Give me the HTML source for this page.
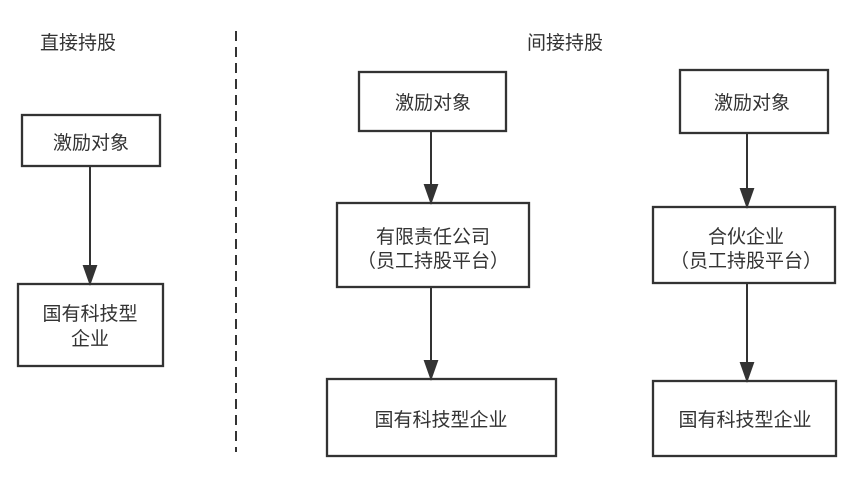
<!DOCTYPE html>
<html><head><meta charset="utf-8"><style>
body{margin:0;background:#fff}
svg text{font-family:"Liberation Sans","Noto Sans CJK SC",sans-serif;font-size:19px;fill:#333}
</style></head><body>
<svg width="865" height="480" viewBox="0 0 865 480" xmlns="http://www.w3.org/2000/svg">
<g fill="#fff" stroke="#333" stroke-width="2.3">
<rect x="22" y="115" width="138" height="51"/>
<rect x="18" y="284" width="145" height="82"/>
<rect x="359" y="72" width="147" height="59"/>
<rect x="337" y="203" width="192" height="84"/>
<rect x="327" y="379" width="229" height="77"/>
<rect x="680" y="70" width="148" height="63"/>
<rect x="653" y="207" width="182" height="76"/>
<rect x="653" y="381" width="183" height="75"/>
</g>
<line x1="236" y1="31" x2="236" y2="452" stroke="#333" stroke-width="2" stroke-dasharray="10,6"/>
<g stroke="#333" stroke-width="2" fill="#333">
<line x1="90" y1="166" x2="90" y2="268"/><path d="M84,266 L96,266 L90,283 z"/>
<line x1="431" y1="131" x2="431" y2="187"/><path d="M425,185 L437,185 L431,202 z"/>
<line x1="431" y1="287" x2="431" y2="363"/><path d="M425,361 L437,361 L431,378 z"/>
<line x1="747" y1="133" x2="747" y2="191"/><path d="M741,189 L753,189 L747,206 z"/>
<line x1="747" y1="283" x2="747" y2="365"/><path d="M741,363 L753,363 L747,380 z"/>
</g>
<g text-anchor="middle">
<text x="78" y="49">直接持股</text>
<text x="565" y="49">间接持股</text>
<text x="91" y="149">激励对象</text>
<text x="90" y="320">国有科技型</text>
<text x="90" y="345">企业</text>
<text x="433" y="109">激励对象</text>
<text x="433" y="243">有限责任公司</text>
<text x="433" y="267">（员工持股平台）</text>
<text x="441" y="426">国有科技型企业</text>
<text x="752" y="109">激励对象</text>
<text x="746" y="243">合伙企业</text>
<text x="746" y="267">（员工持股平台）</text>
<text x="745" y="426">国有科技型企业</text>
</g>
</svg>
</body></html>
